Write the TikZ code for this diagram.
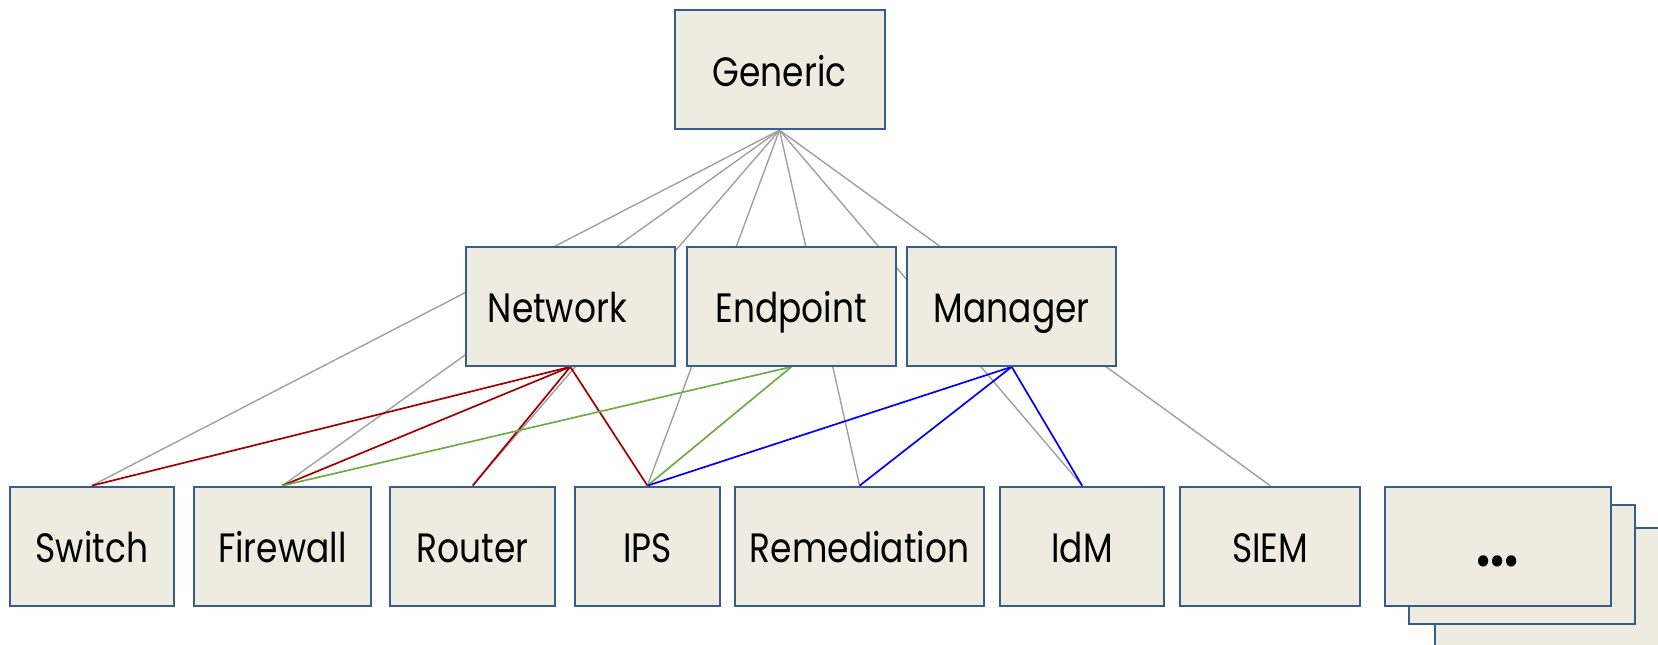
\documentclass[tikz,border=0pt]{standalone}
\usepackage{fontspec}
\setmainfont{Poppins}[FakeStretch=0.84]
\usetikzlibrary{backgrounds}
\definecolor{boxfill}{HTML}{EEECE1}
\definecolor{boxline}{HTML}{385D8A}
\definecolor{linkgray}{HTML}{A0A0A0}
\definecolor{netred}{HTML}{A00000}
\definecolor{endgreen}{HTML}{6FAC46}
\definecolor{mgrblue}{HTML}{0000FF}
\begin{document}
\begin{tikzpicture}[x=1pt,y=-1pt,
  box/.style={draw=boxline, fill=boxfill, line width=2pt, inner sep=0pt,
    minimum height=119.3pt, text height=33pt, text depth=0pt,
    font=\fontsize{41}{48}\selectfont},
  genlink/.style={draw=linkgray, line width=1.4pt},
  netlink/.style={draw=netred, line width=1.7pt},
  endlink/.style={draw=endgreen, line width=1.7pt},
  mgrlink/.style={draw=mgrblue, line width=1.7pt}]
\useasboundingbox (0,0) rectangle (1658,645);

% top level
\node[box, minimum width=210pt] (generic) at (779.5,69.5) {Generic};

% middle level
\node[box, minimum width=209.5pt] (network)  at (570.3,306.2)  {Network\kern26pt};
\node[box, minimum width=209.4pt] (endpoint) at (791.3,306.2)  {Endpoint};
\node[box, minimum width=209.4pt] (manager)  at (1011.7,306.2) {Manager};

% bottom level
\node[box, minimum width=163.3pt] (switch)      at (91.85,546.3)  {Switch};
\node[box, minimum width=177pt]   (firewall)    at (282.4,546.3)  {Firewall};
\node[box, minimum width=164.8pt] (router)      at (472.7,546.3)  {Router};
\node[box, minimum width=145.9pt] (ips)         at (647.45,546.3) {IPS};
\node[box, minimum width=248.8pt] (remediation) at (859.6,546.3)  {Remediation};
\node[box, minimum width=163.7pt] (idm)         at (1082.15,546.3){IdM};
\node[box, minimum width=179.6pt] (siem)        at (1270.2,546.3) {SIEM};

% stacked "more" cards
\node[box, minimum width=226.4pt] (more3) at (1548.2,587.4) {};
\node[box, minimum width=225.7pt] (more2) at (1521.9,564.4) {};
\node[box, minimum width=226.4pt] (more1) at (1497.8,546.3)
  {\raisebox{-4pt}{\fontsize{60}{60}\selectfont\bfseries ...}};

\begin{scope}[on background layer]
  % generic to every concrete type
  \foreach \t in {switch,firewall,router,ips,remediation,idm,siem}
    \draw[genlink] (generic.south) -- (\t.north);
  % network family
  \foreach \t in {switch,firewall,router,ips}
    \draw[netlink] (network.south) -- (\t.north);
  % endpoint family
  \foreach \t in {firewall,ips}
    \draw[endlink] (endpoint.south) -- (\t.north);
  % manager family
  \foreach \t in {ips,remediation,idm}
    \draw[mgrlink] (manager.south) -- (\t.north);
\end{scope}
\end{tikzpicture}
\end{document}
